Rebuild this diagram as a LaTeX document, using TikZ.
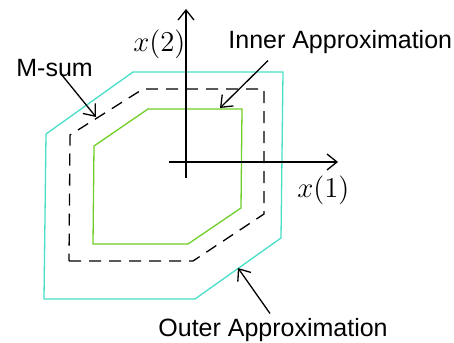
\documentclass[tikz,border=0pt]{standalone}
\usepackage{amsmath}
\usepackage{fontspec}
\setsansfont{Liberation Sans}
\usepackage{tikz}
\usetikzlibrary{arrows.meta}

\definecolor{outercol}{RGB}{72,222,200}
\definecolor{innercol}{RGB}{112,206,40}

\begin{document}
\begin{tikzpicture}[x=0.5pt,y=-0.5pt,
  every node/.style={inner sep=0pt},
  lbl/.style={font=\sffamily\fontsize{12.5}{14}\selectfont,anchor=base west},
  mlbl/.style={font=\fontsize{13.5}{15}\selectfont,anchor=base west},
  pointer/.style={-{Straight Barb[length=5pt,width=8pt]},line width=0.65pt},
  axis/.style={-{Straight Barb[length=5pt,width=8pt]},line width=0.65pt}]
\useasboundingbox (0,0) rectangle (454,342);
% sets
\draw[outercol,line width=0.65pt] (44,299) -- (195,299) -- (281,238) -- (283,72)
  -- (133,72) -- (46,134) -- cycle;
\draw[dashed,dash pattern=on 6pt off 4pt,line width=0.65pt] (69,261) -- (193,261)
  -- (264,214) -- (264,89) -- (143,89) -- (70,135) -- cycle;
\draw[innercol,line width=0.65pt] (93,244) -- (188,244) -- (241,208) -- (242,109)
  -- (148,109) -- (94,146) -- cycle;
% axes
\coordinate (o1) at (169,162);
\coordinate (e1) at (338,162);
\coordinate (o2) at (186,178);
\coordinate (e2) at (186,9);
\draw[axis] (o1) -- (e1);
\draw[axis] (o2) -- (e2);
\node[mlbl] (x2) at (133,52) {$x(2)$};
\node[mlbl] (x1) at (297,197) {$x(1)$};
% labels
\node[lbl] (inner) at (228,49) {Inner Approximation};
\node[lbl] (msum) at (16,76) {M-sum};
\node[lbl] (outer) at (158,336) {Outer Approximation};
\coordinate (innertip) at (220,108);
\coordinate (msumtip) at (96,117);
\coordinate (outertip) at (238,268);
\draw[pointer] ([xshift=20pt,yshift=-3pt]inner.south west) -- (innertip);
\draw[pointer] ([xshift=3.5pt,yshift=1pt]msum.south) -- (msumtip);
\draw[pointer] ([xshift=56pt,yshift=2pt]outer.north west) -- (outertip);
\end{tikzpicture}
\end{document}
